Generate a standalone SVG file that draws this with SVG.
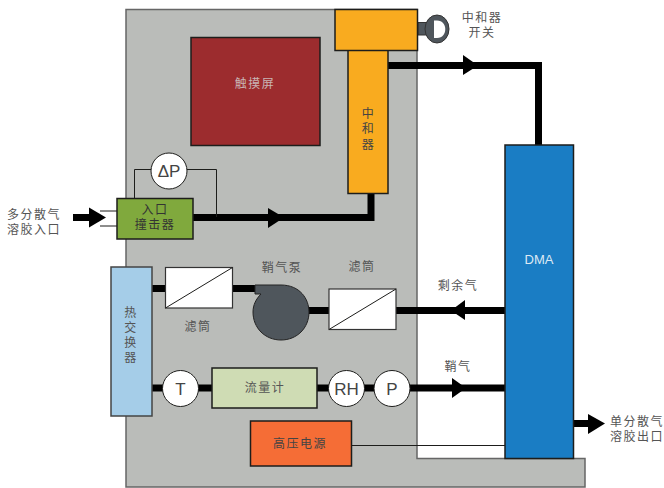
<svg xmlns="http://www.w3.org/2000/svg" width="664" height="488" viewBox="0 0 664 488">
<style>
text{font-family:"Liberation Sans","Noto Sans CJK SC",sans-serif;font-size:12px;fill:#555;text-anchor:middle;letter-spacing:1.5px}
.l{font-family:"Liberation Sans",Arial,sans-serif;font-size:17px;fill:#444;letter-spacing:0}
.b{stroke:#1d1d1b;stroke-width:1.5}
.p{fill:none;stroke:#000;stroke-width:7}
.t{fill:none;stroke:#1d1d1b;stroke-width:1}
.c{fill:#fff;stroke:#1d1d1b;stroke-width:1}
.f{fill:#fff;stroke:#333;stroke-width:1.2}
</style>
<path d="M126 9.500H417V458.500H585V487H126Z" fill="#babcb9" stroke="#666" stroke-width="1.500"/>
<g id="connectors">
<path d="M100 211H117M100 226H117" class="t"/>
<path class="p" d="M73 217.500H100"/><path d="M89 207.500V227.500L106 217.500Z"/>
<path class="p" d="M193 217.500H371V193"/><path d="M268 208V228L284 217.500Z"/>
<path class="t" d="M134.500 198V169.500H151M187 169.500H216.500V217"/>
<path class="p" d="M388 65.500H538.500V145"/><path d="M463 55V75L478 65.500Z"/>
<path class="p" d="M152 288.500H165M233 288.500H256M308 310.500H329M396 310.500H505"/><path d="M465 300V320L451 310.500Z"/>
<path class="p" d="M152 388H505"/><path d="M452 378V398L466 388Z"/>
<path class="t" d="M351 445.500H505"/>
<path class="p" d="M573 423.500H590"/><path d="M588 414V434L605 423.500Z"/>
</g>
<g id="screen"><rect x="191" y="37.500" width="129" height="108" fill="#9c2c2e" class="b"/><text x="255" y="88" style="fill:#c9b4b4">触摸屏</text></g>
<g id="neutralizer-switch"><path d="M418 22.500H427V35H418Z" fill="#4f565c" stroke="#333"/><ellipse cx="437" cy="29" rx="12" ry="14" fill="#4f565c" stroke="#333"/><path d="M434 20.500H437C448 20.500 448 38 437 38H434Z" fill="#fff"/><text x="482" y="22">中和器</text><text x="482" y="37">开关</text></g>
<g id="neutralizer"><rect x="348" y="50" width="40" height="143.500" fill="#f9ab1f" class="b"/><rect x="335" y="9.500" width="82.500" height="41" fill="#f9ab1f" class="b"/><text x="368.500" y="118" style="fill:#444">中</text><text x="368.500" y="133" style="fill:#444">和</text><text x="368.500" y="149" style="fill:#444">器</text></g>
<g id="dp"><circle cx="169" cy="171" r="18" class="c"/><text class="l" x="169" y="177">ΔP</text></g>
<g id="impactor"><rect x="117" y="198.500" width="76" height="40.500" fill="#80a93d" class="b"/><text x="155" y="214" style="fill:#333">入口</text><text x="155" y="229" style="fill:#333">撞击器</text></g>
<g id="inlet-label"><text x="34" y="219">多分散气</text><text x="34" y="234">溶胶入口</text></g>
<g id="heat-exchanger"><rect x="111" y="267" width="41" height="149" fill="#a5cde8" stroke="#444" stroke-width="1.500"/><text x="131" y="317">热</text><text x="131" y="332">交</text><text x="131" y="347">换</text><text x="131" y="362">器</text></g>
<g id="filter1"><rect x="165.500" y="267.500" width="67" height="40.500" class="f"/><path d="M165.500 308L232.500 267.500" class="t"/><text x="198" y="331">滤筒</text></g>
<g id="pump"><path d="M255 285H281C300 285 309 299 309 312C309 328 297 340 281 340C265 340 253 328 253 312C253 305 256 299 261 294H255Z" fill="#4f565c" stroke="#222"/><text x="282" y="272">鞘气泵</text></g>
<g id="filter2"><rect x="329" y="289" width="67" height="40.500" class="f"/><path d="M329 329.500L396 289" class="t"/><text x="362" y="271">滤筒</text></g>
<g id="t"><circle cx="180.500" cy="388.500" r="18" class="c"/><text class="l" x="180.500" y="394.500">T</text></g>
<g id="flowmeter"><rect x="212" y="368" width="105" height="40" fill="#cfdcb4" class="b"/><text x="265" y="392">流量计</text></g>
<g id="rh"><circle cx="346.500" cy="388.500" r="18" class="c"/><text class="l" x="346.500" y="394.500">RH</text></g>
<g id="p"><circle cx="392" cy="388.500" r="18" class="c"/><text class="l" x="392" y="394.500">P</text></g>
<g id="hv"><rect x="250.500" y="421" width="101" height="45" fill="#f56d36" class="b"/><text x="300" y="448" style="fill:#444">高压电源</text></g>
<g id="dma"><rect x="505" y="145" width="68.500" height="313.500" fill="#1a7dc4" class="b"/><text x="539" y="264" style="fill:#dce9f4;font-size:13px;letter-spacing:0">DMA</text></g>
<g id="labels"><text x="458" y="290">剩余气</text><text x="458" y="371">鞘气</text><text x="637" y="426">单分散气</text><text x="637" y="441">溶胶出口</text></g>
</svg>
